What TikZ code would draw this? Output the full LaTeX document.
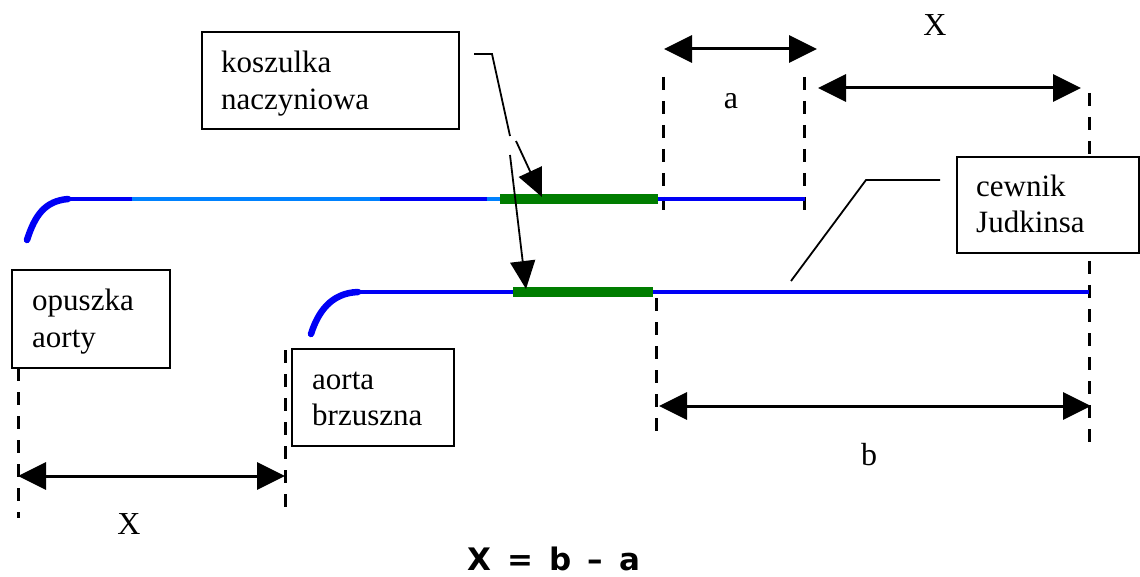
\documentclass[tikz,border=0pt]{standalone}
\usepackage{fontspec}
\setmainfont{Liberation Serif}
\newfontfamily\formulafont{DejaVu Sans}
\usetikzlibrary{arrows.meta}
\definecolor{cathblue}{RGB}{0,0,245}
\definecolor{lightcath}{RGB}{0,130,255}
\definecolor{sheath}{RGB}{0,125,0}
\tikzset{
  labelbox/.style={draw=black, line width=1.8pt, fill=white, inner sep=0pt, anchor=north west},
  boxtext/.style={font=\fontsize{31}{37}\selectfont, inner sep=0pt, anchor=base west},
  dimtext/.style={font=\fontsize{32}{37}\selectfont, inner sep=0pt, anchor=base},
  guide/.style={black, line width=3pt, dash pattern=on 13pt off 11pt},
  dimarrow/.style={black, line width=3pt, {Triangle[length=28pt,width=27pt]}-{Triangle[length=28pt,width=27pt]}},
  leader/.style={black, line width=1.8pt},
  leaderarrow/.style={leader, -{Triangle[length=28pt,width=25pt]}},
  tipcurve/.style={cathblue, line width=6.5pt, line cap=round},
  shaft/.style={line width=4.5pt},
  sheathseg/.style={sheath, line width=9.5pt},
}
\begin{document}
\begin{tikzpicture}[x=1pt, y=-1pt]
\useasboundingbox (0,0) rectangle (1140,577);

% ---- vertical dashed reference lines
\draw[guide] (663,77) -- (663,210);
\draw[guide] (804,77) -- (804,210);
\draw[guide] (1089,93) -- (1089,445);
\draw[guide] (656,298) -- (656,435);
\draw[guide] (18,368) -- (18,518);
\draw[guide] (285,350) -- (285,518);

% ---- upper catheter (position before advancing)
\draw[tipcurve] (27,240) .. controls (35,215) and (45,201) .. (68,199);
\draw[shaft, cathblue]  (68,199) -- (132,199);
\draw[shaft, lightcath] (132,199) -- (380,199);
\draw[shaft, cathblue]  (380,199) -- (487,199);
\draw[shaft, lightcath] (487,199) -- (500,199);
\draw[shaft, cathblue]  (658,199) -- (805,199);
\draw[sheathseg] (500,199) -- (658,199);

% ---- lower catheter (advanced position)
\draw[tipcurve] (311,334) .. controls (318,312) and (331,293) .. (358,292);
\draw[shaft, cathblue] (358,292) -- (1089,292);
\draw[sheathseg] (513,292) -- (653,292);

% ---- label boxes
\node[labelbox, minimum width=257pt, minimum height=97pt] (koszbox) at (201,31) {};
\node[boxtext] (kosz1) at (221,73) {koszulka};
\node[boxtext] (kosz2) at (221,110) {naczyniowa};

\node[labelbox, minimum width=182pt, minimum height=96pt] (cewbox) at (956,156) {};
\node[boxtext] (cew1) at (976,197) {cewnik};
\node[boxtext] (cew2) at (976,233) {Judkinsa};

\node[labelbox, minimum width=158pt, minimum height=98pt] (opbox) at (11,269) {};
\node[boxtext] (op1) at (32,310) {opuszka};
\node[boxtext] (op2) at (32,347) {aorty};

\node[labelbox, minimum width=162pt, minimum height=97pt] (aobox) at (291,348) {};
\node[boxtext] (ao1) at (312,389) {aorta};
\node[boxtext] (ao2) at (312,425) {brzuszna};

% ---- leader lines
\coordinate (kA) at (474,54);
\coordinate (kB) at (492,54);
\coordinate (kC) at (510,136);
\coordinate (kD) at (516,141);
\coordinate (kTop) at (542,197);
\coordinate (kE) at (510,155);
\coordinate (kBot) at (526,289);
\draw[leader] (kA) -- (kB) -- (kC);
\draw[leaderarrow] (kD) -- (kTop);
\draw[leaderarrow] (kE) -- (kBot);

\coordinate (cA) at (940,180);
\coordinate (cB) at (866,180);
\coordinate (cC) at (791,281);
\draw[leader] (cA) -- (cB) -- (cC);

% ---- dimension arrows
\coordinate (aL) at (664,49);  \coordinate (aR) at (817,49);
\coordinate (XL) at (818,88);  \coordinate (XR) at (1081,88);
\coordinate (bL) at (659,406); \coordinate (bR) at (1091,406);
\coordinate (xL) at (18,476);  \coordinate (xR) at (285,476);
\draw[dimarrow] (aL) -- (aR);
\draw[dimarrow] (XL) -- (XR);
\draw[dimarrow] (bL) -- (bR);
\draw[dimarrow] (xL) -- (xR);

\node[dimtext] (alab) at (731,109) {a};
\node[dimtext] (Xlab) at (935,36) {X};
\node[dimtext] (blab) at (869,465) {b};
\node[dimtext] (xlab) at (129,534) {X};

% ---- relation
\node[font=\formulafont\bfseries\fontsize{31}{36}\selectfont, inner sep=0pt, anchor=base] (formula) at (554,570) {X \,=\, b \,–\, a};
\end{tikzpicture}
\end{document}
